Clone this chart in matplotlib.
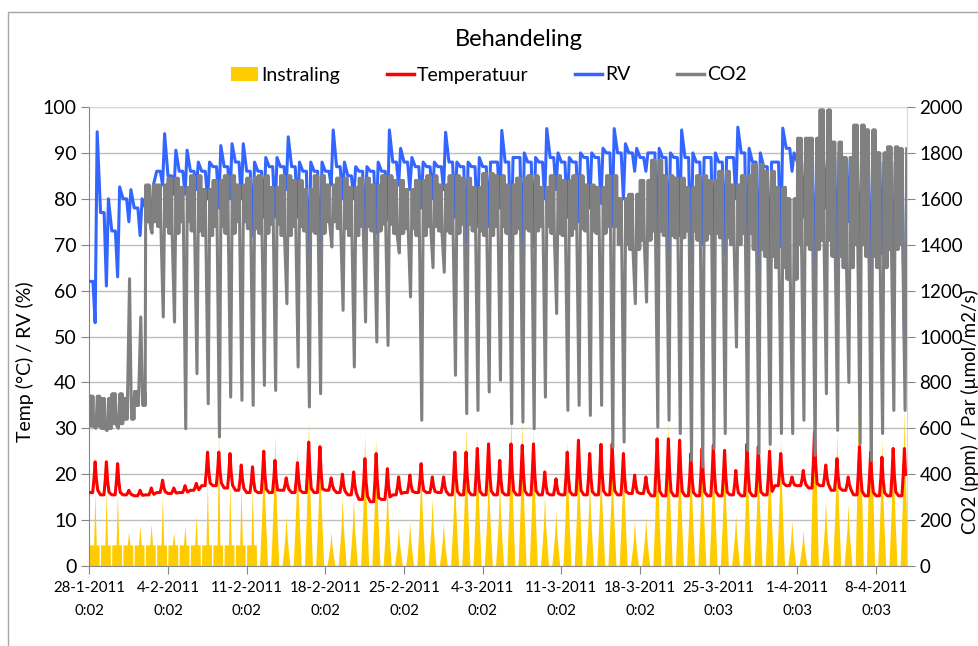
import numpy as np
import matplotlib
matplotlib.use("Agg")
import matplotlib.pyplot as plt
from matplotlib.patches import Patch, Rectangle
from matplotlib.lines import Line2D

plt.rcParams['font.family'] = ['Lato', 'DejaVu Sans']

# ---------------- data (one value per day, day 0 = 28-1-2011 0:02) ----------------
tick_days = [0, 7, 14, 21, 28, 35, 42, 49, 56, 63, 70]
tick_labels = ["28-1-2011\n0:02", "4-2-2011\n0:02", "11-2-2011\n0:02", "18-2-2011\n0:02",
               "25-2-2011\n0:02", "4-3-2011\n0:02", "11-3-2011\n0:02", "18-3-2011\n0:02",
               "25-3-2011\n0:03", "1-4-2011\n0:03", "8-4-2011\n0:03"]
t_end = 72.72

# Instraling: daily peak (umol/m2/s) and lamp plateau level
par_peak = [320, 320, 320, 150, 178, 186, 300, 144, 174, 218,
            366, 606, 360, 346, 340, 534, 570, 220, 520, 628,
            534, 150, 300, 294, 576, 554, 366, 170, 192, 460,
            294, 192, 440, 612, 576, 440, 374, 664, 628, 600,
            308, 242, 548, 512, 390, 480, 500, 532, 200, 214,
            600, 628, 576, 532, 520, 554, 512, 228, 554, 512,
            580, 560, 200, 156, 1034, 286, 592, 272, 1084, 1080,
            554, 570, 680]
lamp = [92, 92, 92, 92, 92, 92, 92, 92, 92, 92,
        92, 92, 92, 92, 92, 0, 0, 0, 0, 0,
        0, 0, 0, 0, 0, 0, 0, 0, 0, 0,
        0, 0, 0, 0, 0, 0, 0, 0, 0, 0,
        0, 0, 0, 0, 0, 0, 0, 0, 0, 0,
        0, 0, 0, 0, 0, 0, 0, 0, 0, 0,
        0, 0, 0, 0, 0, 0, 0, 0, 0, 0,
        0, 0, 0]
# daily light profile (fraction of day, fraction of peak)
sun_t = [0.14, 0.30, 0.41, 0.50, 0.59, 0.70, 0.86]
sun_f = [0.0, 0.33, 0.60, 1.0, 0.60, 0.33, 0.0]

# Temperatuur (degC): night level and daily peak
temp_base = [16, 15.5, 15.5, 15.5, 15.3, 15.5, 16, 15.8, 16, 16.5,
             17.5, 17.5, 17, 16.5, 16, 16, 16, 16.5, 16, 16,
             16, 16.5, 16, 15.5, 14.5, 14, 14.5, 15.5, 16, 16,
             16, 16, 15.5, 15.5, 15.5, 15.5, 15.5, 15.5, 15.5, 15.5,
             15.5, 15.5, 15.5, 15.5, 15.5, 15.5, 15.5, 15.5, 15.8, 15.8,
             15.3, 15.3, 15.3, 15.3, 15.3, 15.3, 15.3, 15.5, 15.3, 15.3,
             15.5, 17.5, 17.5, 17.5, 17, 17.5, 16.5, 16.5, 15.5, 15.3,
             15.3, 15.3, 15.3]
temp_peak = [22.7, 22.7, 22.3, 16.5, 16.5, 17, 18.7, 17, 17.5, 18,
             24.8, 24.8, 24.5, 22, 21.6, 25, 23, 19.2, 22.5, 27,
             26, 19.2, 20, 20.5, 23.4, 24.5, 21.2, 19.4, 19.8, 22.3,
             19.4, 19.4, 24.8, 24.8, 25.6, 26.6, 23, 26.6, 26.3, 26.6,
             20.5, 19, 24.8, 27.4, 24.5, 26.5, 26.6, 24.5, 19.8, 19.4,
             27.7, 27.7, 27.4, 24.5, 25.6, 26.3, 25.2, 20.8, 26.6, 26,
             25, 24.5, 19.4, 20.8, 29.2, 22, 23.4, 19.4, 26, 24.8,
             23.7, 25.6, 25.6]
temp_t = [0.0, 0.30, 0.42, 0.52, 0.62, 0.75]
temp_f = [0.0, 0.0, 0.45, 1.0, 0.45, 0.08]

# RV (%): night level, midday low, evening high
rv_night = [62, 77, 73, 80, 78, 78, 86, 85, 86, 86,
            86, 87, 87, 88, 86, 86, 87, 87, 87, 86,
            86, 86, 87, 85, 86, 86, 86, 88, 88, 87,
            87, 87, 88, 87, 87, 87, 88, 88, 89, 88,
            88, 89, 88, 88, 89, 89, 90, 90, 90, 89,
            90, 89, 89, 89, 88, 89, 88, 89, 90, 88,
            87, 88, 91, 88, 87, 89, 89, 88, 88, 88,
            88, 87, 87]
rv_lo = [53, 61, 63, 75, 72, 73, 83, 81, 81, 82,
         80, 78, 80, 80, 72, 76, 76, 82, 76, 59.5,
         61.6, 83, 80, 80, 72.5, 72.5, 75.4, 83, 82, 78,
         80, 82, 76, 68, 74, 74, 78, 68, 67, 69.5,
         80, 82, 76, 75, 78, 79, 74, 80, 86, 86,
         69.5, 66.6, 72, 66, 70, 65, 68, 80, 59.3, 62,
         61.5, 69.6, 86, 76, 59.5, 78, 62, 75, 61, 55,
         68, 58, 49]
rv_hi = [94.6, 80, 82.6, 82, 80, 83, 94.2, 90.6, 90.6, 88,
         88, 91.6, 92, 92, 88, 89, 89, 93.5, 88, 88,
         88, 95, 88, 87, 87, 88, 95, 91, 89, 88,
         88, 94.5, 88, 88, 89, 88, 94.9, 89, 90, 89,
         95.3, 90, 89, 90, 90, 91, 95.3, 92, 91, 90,
         91, 90, 95, 90, 89, 90, 89, 95.6, 91, 90,
         88, 95.4, 90, 88, 89, 90, 90, 89, 89.5, 88,
         88, 88, 52]
rv_t = [0.0, 0.32, 0.52, 0.70]

# CO2 (ppm): band top, band bottom, daytime dip
co2_top = [740, 730, 750, 730, 760, 1660, 1660, 1690, 1650, 1700,
           1640, 1680, 1700, 1660, 1690, 1700, 1650, 1700, 1680, 1640,
           1700, 1660, 1690, 1650, 1690, 1660, 1700, 1680, 1640, 1680,
           1700, 1660, 1700, 1690, 1650, 1710, 1700, 1660, 1690, 1700,
           1650, 1700, 1680, 1700, 1660, 1650, 1700, 1600, 1620, 1680,
           1768, 1700, 1690, 1650, 1700, 1680, 1720, 1660, 1700, 1750,
           1720, 1650, 1600, 1864, 1864, 1987, 1847, 1780, 1921, 1900,
           1800, 1826, 1818]
co2_bot = [610, 600, 620, 640, 700, 1500, 1480, 1450, 1500, 1460,
           1440, 1480, 1450, 1500, 1470, 1450, 1490, 1440, 1480, 1460,
           1450, 1500, 1470, 1440, 1480, 1460, 1490, 1450, 1470, 1440,
           1480, 1460, 1450, 1490, 1460, 1440, 1480, 1450, 1470, 1460,
           1480, 1450, 1440, 1470, 1460, 1450, 1480, 1400, 1380, 1420,
           1460, 1440, 1430, 1460, 1420, 1450, 1430, 1400, 1450, 1380,
           1350, 1300, 1250, 1400, 1380, 1420, 1350, 1300, 1400, 1350,
           1300, 1380, 1400]
co2_day = [600, 590, 600, 1252, 1085, 1450, 1085, 1063, 598, 838,
           707, 562, 736, 722, 700, 787, 765, 1143, 867, 693,
           751, 1390, 1114, 867, 1063, 976, 961, 1364, 1172, 635,
           1300, 1280, 831, 664, 678, 758, 809, 620, 627, 598,
           736, 1100, 678, 700, 656, 700, 518, 540, 1143, 1150,
           605, 635, 577, 460, 431, 511, 577, 954, 504, 490,
           530, 577, 577, 635, 482, 751, 591, 800, 533, 460,
           577, 678, 678]
# within-day sampling of band top (T), band bottom (B) and dip (D)
co2_t = [0.02, 0.07, 0.12, 0.17, 0.22, 0.27, 0.32, 0.37, 0.58, 0.72, 0.77, 0.82, 0.87, 0.92, 0.97]
co2_k = ['T', 'B', 'T', 'B', 'T', 'B', 'T', 'B', 'D', 'T', 'B', 'T', 'B', 'T', 'B']


# ---------------- build time series from the daily readings ----------------
def build(points):
    t = np.array([p[0] for p in points])
    v = np.array([p[1] for p in points])
    m = t <= t_end
    return t[m], v[m]

pts = []
for d in range(len(par_peak)):
    if lamp[d] > 0:
        L = lamp[d]
        pts += [(d + 0.0, L), (d + 0.38, L), (d + 0.50, par_peak[d]), (d + 0.62, L),
                (d + 0.86, L), (d + 0.875, 0), (d + 0.985, 0)]
    else:
        pts += [(d + tt, ff * par_peak[d]) for tt, ff in zip(sun_t, sun_f)]
par_x, par_y = build(pts)

pts = []
for d in range(len(temp_peak)):
    pts += [(d + tt, temp_base[d] + ff * (temp_peak[d] - temp_base[d])) for tt, ff in zip(temp_t, temp_f)]
tmp_x, tmp_y = build(pts)

pts = []
for d in range(len(rv_lo)):
    vals = [rv_night[d], rv_night[d], rv_lo[d], rv_hi[d]]
    pts += [(d + tt, vv) for tt, vv in zip(rv_t, vals)]
rv_x, rv_y = build(pts)

pts = []
for d in range(len(co2_day)):
    lookup = {'T': co2_top[d], 'B': co2_bot[d], 'D': co2_day[d]}
    pts += [(d + tt, lookup[kk]) for tt, kk in zip(co2_t, co2_k)]
co2_x, co2_y = build(pts)

# ---------------- figure ----------------
W, H = 979, 646
fig = plt.figure(figsize=(W / 100, H / 100), dpi=100)
fig.patch.set_facecolor('white')

px0, px1, py0, py1 = 89.3, 907.0, 107.0, 566.0
pos = [px0 / W, 1 - py1 / H, (px1 - px0) / W, (py1 - py0) / H]

YELLOW = '#FFCC00'
RED = '#FF0000'
BLUE = '#3366FF'
GRAY = '#808080'
GRID = '#BFBFBF'
AXC = '#868686'

# bottom layer: Instraling (secondary scale), grid, x axis
axP = fig.add_axes(pos)
axP.set_xlim(0, 72.75)
axP.set_ylim(0, 2000)
axP.set_yticks(np.arange(0, 2001, 200))
axP.yaxis.grid(True, color=GRID, lw=1)
axP.tick_params(axis='y', left=False, right=False, labelleft=False)
axP.fill_between(par_x, 0, par_y, color=YELLOW, lw=0, zorder=2)
axP.set_xticks(tick_days)
axP.set_xticklabels(tick_labels, fontsize=10.8, linespacing=1.75)
axP.tick_params(axis='x', direction='out', length=6, color=AXC, pad=5)
for s in ['left', 'bottom']:
    axP.spines[s].set_color(AXC)
for s in ['top', 'right']:
    axP.spines[s].set_color('#D9D9D9')

# middle layer: temperature and RV (primary scale)
axT = fig.add_axes(pos, sharex=axP)
axT.patch.set_alpha(0)
axT.set_ylim(0, 100)
axT.set_yticks(np.arange(0, 101, 10))
axT.tick_params(axis='y', direction='out', length=6, color=AXC, labelsize=14, pad=3)
axT.tick_params(axis='x', bottom=False, labelbottom=False)
for s in axT.spines.values():
    s.set_visible(False)
axT.plot(tmp_x, tmp_y, color=RED, lw=2.2, solid_joinstyle='round')
axT.plot(rv_x, rv_y, color=BLUE, lw=2.2, solid_joinstyle='round')

# top layer: CO2 (secondary scale)
axC = fig.add_axes(pos, sharex=axP)
axC.patch.set_alpha(0)
axC.set_ylim(0, 2000)
axC.yaxis.tick_right()
axC.set_yticks(np.arange(0, 2001, 200))
axC.tick_params(axis='y', direction='out', length=6, color=AXC, labelsize=13.5, pad=3)
axC.tick_params(axis='x', bottom=False, labelbottom=False)
for s in axC.spines.values():
    s.set_visible(False)
axC.plot(co2_x, co2_y, color=GRAY, lw=2.2, solid_joinstyle='round')

# texts
fig.text(519 / W, 1 - 40 / H, "Behandeling", ha='center', va='center', fontsize=17)
fig.text(25 / W, 1 - 362 / H, "Temp (°C) / RV (%)", rotation=90, ha='center', va='center', fontsize=14)
fig.text(970 / W, 1 - 412 / H, "CO2 (ppm) / Par (µmol/m2/s)", rotation=90, ha='center', va='center', fontsize=13.5)

handles = [Patch(facecolor=YELLOW, edgecolor='none'),
           Line2D([], [], color=RED, lw=2.5),
           Line2D([], [], color=BLUE, lw=2.5),
           Line2D([], [], color=GRAY, lw=2.5)]
fig.legend(handles, ["Instraling", "Temperatuur", "RV", "CO2"], loc='center',
           bbox_to_anchor=(489 / W, 1 - 75 / H), ncol=4, frameon=False, fontsize=14,
           handlelength=1.4, handleheight=0.7, handletextpad=0.15, columnspacing=2.4)

# chart border
fig.add_artist(Rectangle((8 / W, -0.1), 1.2, 1 - 12 / H + 0.1, transform=fig.transFigure,
                         fill=False, edgecolor='#A6A6A6', lw=1))

fig.savefig('out.png', dpi=100)
